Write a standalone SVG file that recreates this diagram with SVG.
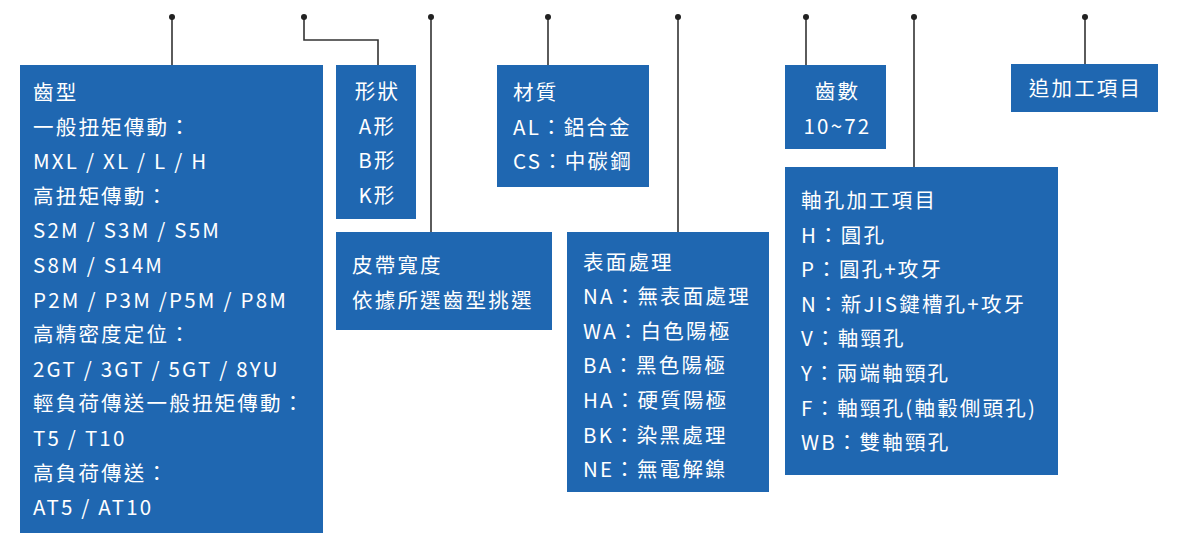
<svg xmlns="http://www.w3.org/2000/svg" width="1177" height="533" viewBox="0 0 1177 533">
<style>
.box{fill:#1f67b1;}
.t{font-family:"Noto Sans CJK TC","Noto Sans",sans-serif;font-size:20.5px;fill:#ffffff;letter-spacing:2.2px;}
.c{text-anchor:middle;}
.ln{fill:none;stroke:#333333;stroke-width:1.6;}
.dot{fill:#222222;}
</style>
<rect width="1177" height="533" fill="#ffffff"/>
<g id="connectors">
<path class="ln" d="M172 17V65"/>
<path class="ln" d="M304 17V40H378V65"/>
<path class="ln" d="M431 17V232"/>
<path class="ln" d="M548 17V65"/>
<path class="ln" d="M678 17V232"/>
<path class="ln" d="M806 17V65"/>
<path class="ln" d="M914 17V167"/>
<path class="ln" d="M1085 17V64"/>
<circle class="dot" cx="172" cy="17" r="3"/>
<circle class="dot" cx="304" cy="17" r="3"/>
<circle class="dot" cx="431" cy="17" r="3"/>
<circle class="dot" cx="548" cy="17" r="3"/>
<circle class="dot" cx="678" cy="17" r="3"/>
<circle class="dot" cx="806" cy="17" r="3"/>
<circle class="dot" cx="914" cy="17" r="3"/>
<circle class="dot" cx="1085" cy="17" r="3"/>
</g>
<g id="tooth-type">
<rect class="box" x="20" y="65" width="303" height="468"/>
<text class="t" x="33" y="100">齒型</text>
<text class="t" x="33" y="134.6">一般扭矩傳動：</text>
<text class="t" x="33" y="169.2">MXL / XL / L / H</text>
<text class="t" x="33" y="203.8">高扭矩傳動：</text>
<text class="t" x="33" y="238.4">S2M / S3M / S5M</text>
<text class="t" x="33" y="273">S8M / S14M</text>
<text class="t" x="33" y="307.6">P2M / P3M /P5M / P8M</text>
<text class="t" x="33" y="342.2">高精密度定位：</text>
<text class="t" x="33" y="376.8">2GT / 3GT / 5GT / 8YU</text>
<text class="t" x="33" y="411.4">輕負荷傳送一般扭矩傳動：</text>
<text class="t" x="33" y="446">T5 / T10</text>
<text class="t" x="33" y="480.6">高負荷傳送：</text>
<text class="t" x="33" y="515.2">AT5 / AT10</text>
</g>
<g id="shape">
<rect class="box" x="336" y="65" width="80" height="154"/>
<text class="t c" x="377.5" y="99">形狀</text>
<text class="t c" x="377.5" y="133.6">A形</text>
<text class="t c" x="377.5" y="168.2">B形</text>
<text class="t c" x="377.5" y="202.8">K形</text>
</g>
<g id="belt-width">
<rect class="box" x="336" y="232" width="216" height="98"/>
<text class="t" x="352" y="273">皮帶寬度</text>
<text class="t" x="352" y="307.6">依據所選齒型挑選</text>
</g>
<g id="material">
<rect class="box" x="497" y="65" width="152" height="122"/>
<text class="t" x="513" y="100">材質</text>
<text class="t" x="513" y="134.6">AL：鋁合金</text>
<text class="t" x="513" y="169.2">CS：中碳鋼</text>
</g>
<g id="surface">
<rect class="box" x="567" y="232" width="202" height="260"/>
<text class="t" x="583" y="269.5">表面處理</text>
<text class="t" x="583" y="304.1">NA：無表面處理</text>
<text class="t" x="583" y="338.7">WA：白色陽極</text>
<text class="t" x="583" y="373.3">BA：黑色陽極</text>
<text class="t" x="583" y="407.9">HA：硬質陽極</text>
<text class="t" x="583" y="442.5">BK：染黑處理</text>
<text class="t" x="583" y="477.1">NE：無電解鎳</text>
</g>
<g id="teeth-count">
<rect class="box" x="785" y="65" width="101" height="84"/>
<text class="t c" x="837.5" y="99">齒數</text>
<text class="t c" x="837.5" y="133.6">10~72</text>
</g>
<g id="bore">
<rect class="box" x="785" y="167" width="273" height="308"/>
<text class="t" x="801" y="208">軸孔加工項目</text>
<text class="t" x="801" y="242.6">H：圓孔</text>
<text class="t" x="801" y="277.2">P：圓孔+攻牙</text>
<text class="t" x="801" y="311.8">N：新JIS鍵槽孔+攻牙</text>
<text class="t" x="801" y="346.4">V：軸頸孔</text>
<text class="t" x="801" y="381">Y：兩端軸頸孔</text>
<text class="t" x="801" y="415.6">F：軸頸孔(軸轂側頭孔)</text>
<text class="t" x="801" y="450.2">WB：雙軸頸孔</text>
</g>
<g id="extra">
<rect class="box" x="1011" y="64" width="147" height="48"/>
<text class="t c" x="1085.5" y="96">追加工項目</text>
</g>
</svg>
